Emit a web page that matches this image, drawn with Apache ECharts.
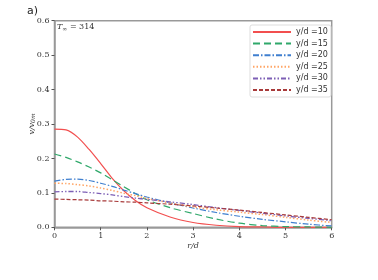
<!DOCTYPE html>
<html><head><meta charset="utf-8">
<script src="https://cdn.jsdelivr.net/npm/echarts@6/dist/echarts.min.js"></script>
<style>html,body{margin:0;padding:0;background:#fff}#c{width:378px;height:280px}</style>
</head><body><div id="c"></div>
<script>
const r = [0, 0.25, 0.5, 0.75, 1.0, 1.25, 1.5, 1.75, 2.0, 2.5, 3.0, 3.5, 4.0, 4.5, 5.0, 5.5, 6.0];
const v10 = [0.285, 0.283, 0.262, 0.226, 0.185, 0.142, 0.106, 0.078, 0.057, 0.030, 0.014, 0.006, 0.002, 0.001, 0.0, 0.0, 0.0];
const v15 = [0.213, 0.203, 0.190, 0.175, 0.158, 0.138, 0.118, 0.098, 0.080, 0.057, 0.040, 0.024, 0.012, 0.005, 0.002, 0.001, 0.0];
const v20 = [0.134, 0.139, 0.140, 0.136, 0.128, 0.119, 0.108, 0.098, 0.088, 0.071, 0.056, 0.043, 0.032, 0.023, 0.016, 0.009, 0.004];
const v25 = [0.128, 0.127, 0.124, 0.120, 0.114, 0.107, 0.099, 0.092, 0.084, 0.071, 0.059, 0.051, 0.044, 0.037, 0.029, 0.021, 0.014];
const v30 = [0.103, 0.104, 0.104, 0.101, 0.098, 0.094, 0.089, 0.085, 0.081, 0.074, 0.066, 0.057, 0.049, 0.041, 0.033, 0.026, 0.019];
const v35 = [0.082, 0.081, 0.080, 0.079, 0.077, 0.076, 0.074, 0.073, 0.071, 0.067, 0.062, 0.056, 0.050, 0.043, 0.036, 0.029, 0.022];
const names = ['y/d =10', 'y/d =15', 'y/d =20', 'y/d =25', 'y/d =30', 'y/d =35'];
const values = [v10, v15, v20, v25, v30, v35];
const xTicks = [0, 1, 2, 3, 4, 5, 6];
const yTicks = [0.0, 0.1, 0.2, 0.3, 0.4, 0.5, 0.6];

const colors = ['#f24f4f', '#2fa86a', '#3f7fcf', '#ffa566', '#7d5fb5', '#a83a3a'];
const dashes = ['solid', [7, 4], [6, 2, 1.5, 2], [1.5, 2], [5, 2, 1.5, 2, 1.5, 2], [4, 2]];
const widths = [1.2, 1.2, 1.2, 1.5, 1.3, 1.2];

const chart = echarts.init(document.getElementById('c'), null, {renderer: 'canvas'});
const serif = 'DejaVu Serif';
chart.setOption({
  animation: false,
  backgroundColor: '#fff',
  grid: {left: 54.5, right: 46.3, top: 20.7, bottom: 52.7, show: true, borderColor: '#999', borderWidth: 1.5},
  legend: {
    data: names, orient: 'vertical', left: 250, top: 25,
    itemWidth: 38, itemHeight: 8, itemGap: 3.6,
    itemStyle: {opacity: 0},
    borderColor: '#ddd', borderWidth: 1, borderRadius: 2, padding: [3, 3, 3, 2],
    textStyle: {fontFamily: 'DejaVu Sans', fontSize: 8, color: '#333'},
    backgroundColor: '#fff'
  },
  xAxis: {
    type: 'value', min: 0, max: 6, interval: 1,
    name: 'r/d', nameLocation: 'middle', nameGap: 15, nameMoveOverlap: false,
    nameTextStyle: {fontFamily: serif, fontStyle: 'italic', fontSize: 8, color: '#333'},
    axisLine: {lineStyle: {color: '#999', width: 1.5}},
    axisTick: {length: 3, lineStyle: {color: '#555'}},
    splitLine: {show: false},
    axisLabel: {fontFamily: serif, fontSize: 8, color: '#333', margin: 5, formatter: v => xTicks.includes(v) ? String(v) : ''}
  },
  yAxis: {
    type: 'value', min: 0, max: 0.6, interval: 0.1,
    name: '{a|v/v}{s|0m}', nameLocation: 'middle', nameGap: 18, nameMoveOverlap: false,
    nameTextStyle: {rich: {a: {fontFamily: serif, fontStyle: 'italic', fontSize: 8, color: '#333'}, s: {fontFamily: serif, fontStyle: 'italic', fontSize: 6, color: '#333', verticalAlign: 'bottom', padding: [4, 0, 0, 0]}}},
    axisLine: {lineStyle: {color: '#999', width: 1.5}},
    axisTick: {length: 3, lineStyle: {color: '#555'}},
    splitLine: {show: false},
    axisLabel: {fontFamily: serif, fontSize: 8, color: '#333', margin: 5, formatter: v => yTicks.map(t => t.toFixed(1)).includes(v.toFixed(1)) ? v.toFixed(1) : ''}
  },
  graphic: [
    {type: 'text', left: 27, top: 6, style: {text: 'a)', font: '11px "DejaVu Sans"', fill: '#222'}},
    {type: 'text', left: 57, top: 23, style: {
      text: '{t|T}{s|∞}{n| = 314}',
      rich: {t: {fontFamily: serif, fontStyle: 'italic', fontSize: 8, fill: '#333'}, s: {fontFamily: serif, fontSize: 6, fill: '#333', padding: [4, 0, 0, 0]}, n: {fontFamily: serif, fontSize: 8, fill: '#333'}}
    }}
  ],
  series: values.map((vals, i) => ({
    name: names[i], type: 'line', symbol: 'none', smooth: 0.3,
    color: colors[i],
    lineStyle: {color: colors[i], width: widths[i], type: dashes[i]},
    data: r.map((x, j) => [x, vals[j]])
  }))
});
</script></body></html>
